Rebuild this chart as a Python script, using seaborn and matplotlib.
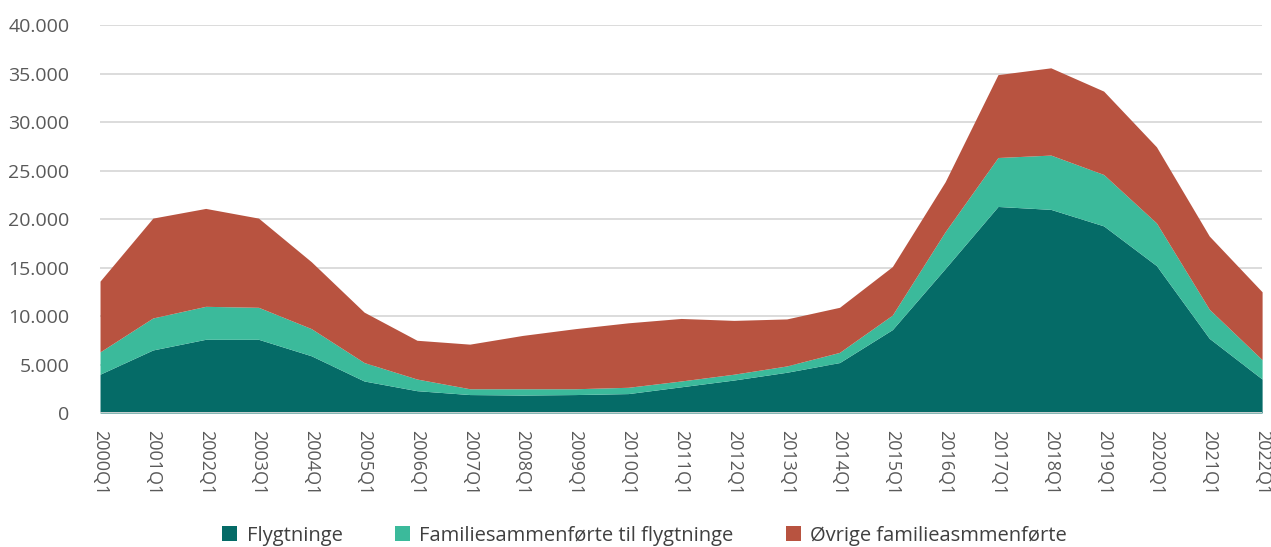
import numpy as np
import pandas as pd
import matplotlib
matplotlib.use("Agg")
import matplotlib.pyplot as plt
import seaborn as sns

# quarters on the x axis
quarters = [f"{y}Q1" for y in range(2000, 2023)]

# values (persons)
flygtninge = [4000, 6500, 7600, 7600, 5900, 3300, 2300, 1900, 1850, 1900, 2000, 2700,
              3400, 4200, 5200, 8600, 14900, 21300, 21000, 19300, 15200, 7700, 3500]
fam_flygt = [2300, 3300, 3400, 3300, 2800, 1900, 1200, 600, 650, 600, 650, 600,
             600, 650, 1050, 1500, 3800, 5050, 5600, 5300, 4400, 3000, 2000]
ovrige = [7300, 10300, 10100, 9200, 6900, 5200, 4000, 4600, 5500, 6200, 6650, 6450,
          5550, 4850, 4650, 5000, 5150, 8550, 9000, 8600, 7850, 7550, 7000]

labels = ["Flygtninge", "Familiesammenførte til flygtninge", "Øvrige familieasmmenførte"]
colors = ["#056B67", "#3BBA9B", "#B85340"]

df = pd.DataFrame({"kvartal": quarters, labels[0]: flygtninge,
                   labels[1]: fam_flygt, labels[2]: ovrige})

sns.set_style("white")
plt.rcParams['font.family'] = ['Open Sans', 'DejaVu Sans']

fig = plt.figure(figsize=(12.71, 5.47), dpi=100)
ax = fig.add_axes([0.0787, 0.245, 0.9143, 0.709])

x = np.arange(len(quarters))
ax.stackplot(x, df[labels[0]], df[labels[1]], df[labels[2]],
             colors=colors, labels=labels, linewidth=0, zorder=2)

ax.set_xlim(0, len(quarters) - 1)
ax.set_ylim(0, 40000)
ax.set_yticks(np.arange(0, 40001, 5000))
ax.set_yticklabels([f"{v:,}".replace(",", ".") for v in range(0, 40001, 5000)])
ax.yaxis.grid(True, color="#D9D9D9", linewidth=1.3, zorder=0)
ax.set_axisbelow(True)
ax.set_xticks(x)
ax.set_xticklabels(quarters, rotation=270, va="top", ha="center")
ax.tick_params(axis="y", labelsize=14, colors="#595959", length=0, pad=22)
ax.tick_params(axis="x", labelsize=13, colors="#595959", length=0, pad=12)
ax.axhline(0, color="#D9D9D9", linewidth=1.3, zorder=3)
sns.despine(ax=ax, left=True, bottom=True, top=True, right=True)

ax.legend(loc="lower center", ncol=3, frameon=False, fontsize=14.5,
          handlelength=0.75, handleheight=0.75, columnspacing=2.6,
          handletextpad=0.45, labelcolor="#404040", borderaxespad=0)
leg = ax.get_legend()
leg.set_bbox_to_anchor((0.507, -0.012), transform=fig.transFigure)

plt.savefig("out.png", dpi=100)
plt.close()
